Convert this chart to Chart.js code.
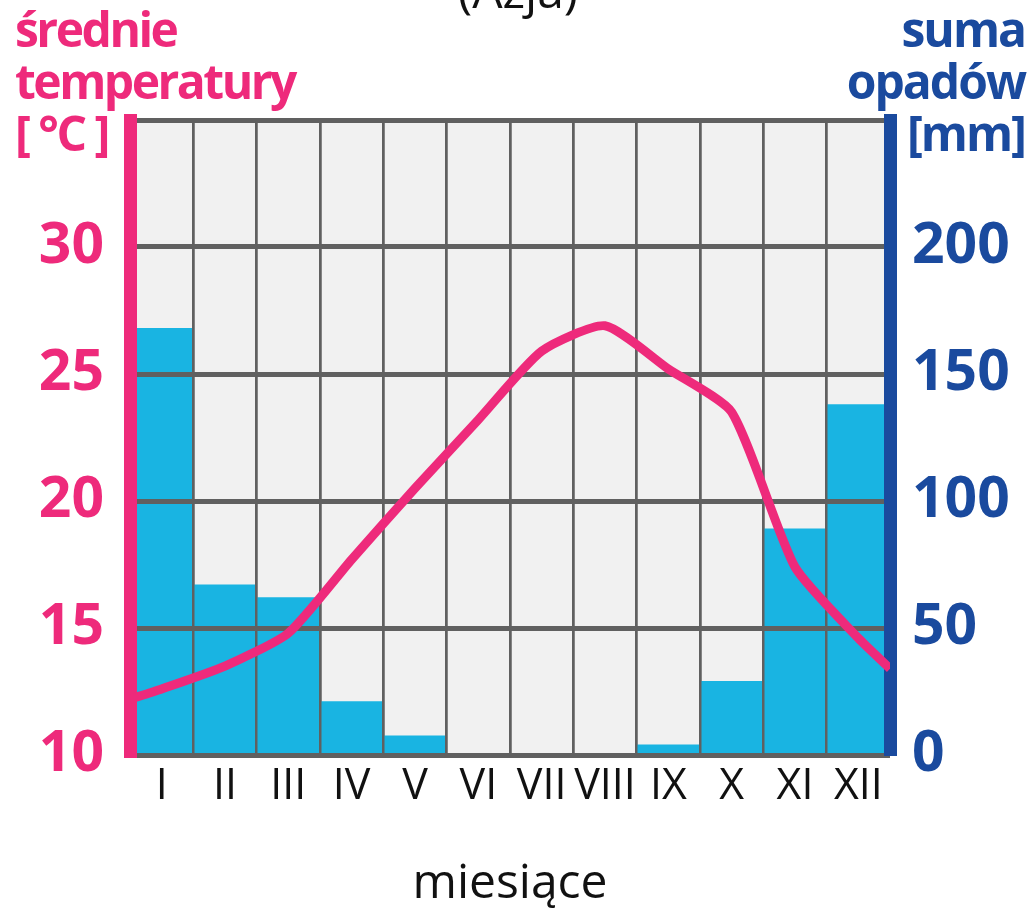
<!DOCTYPE html>
<html lang="pl">
<head>
<meta charset="utf-8">
<title>Klimatogram</title>
<script src="https://cdn.jsdelivr.net/npm/chart.js@4.4.1/dist/chart.umd.min.js"></script>
<style>
  html, body { margin: 0; padding: 0; background: #fff; }
  #wrap { position: relative; width: 1036px; height: 915px; overflow: hidden; }
  #chart { position: absolute; left: 0; top: 0; }
  .head { position: absolute; font-family: 'Open Sans', sans-serif; font-weight: 700;
          font-size: 48px; line-height: 52px; letter-spacing: -2.5px; white-space: nowrap; }
  #tempHead { left: 15px; top: 3px; color: #ee2a7b; }
  #rainHead { right: 11px; top: 3px; color: #1a4a9e; text-align: right; letter-spacing: -2px; }
  #topTitle { position: absolute; left: 0; width: 1036px; top: -36px; text-align: center;
              font-family: 'Open Sans', sans-serif; font-size: 48px; line-height: 52px; color: #111; }
</style>
</head>
<body>
<div id="wrap">
  <canvas id="chart" width="1036" height="915"></canvas>
  <div id="topTitle">(Azja)</div>
  <div class="head" id="tempHead">średnie<br>temperatury<br>[ °C ]</div>
  <div class="head" id="rainHead">suma<br>opadów<br>[mm]</div>
</div>
<script>
// dane
const months = ['I', 'II', 'III', 'IV', 'V', 'VI', 'VII', 'VIII', 'IX', 'X', 'XI', 'XII'];
const precipitation = [168, 67, 62, 21, 7.5, 0, 0, 0, 4, 29, 89, 138];
const temperature = [12.6, 13.5, 14.8, 17.7, 20.5, 23.2, 25.9, 26.9, 25.2, 23.5, 17.4, 14.6];
const tempEdges = [12.2, 13.4]; // wartości linii na lewej i prawej krawędzi
const tempTicks = [10, 15, 20, 25, 30];
const rainTicks = [0, 50, 100, 150, 200];

const PINK = '#ee2a7b';
const BLUE = '#1a4a9e';
const GRID = '#606060';

// punkty linii temperatury (z krawędziami wykresu)
const tempPoints = [{ x: 0.5, y: tempEdges[0] }]
  .concat(temperature.map((t, i) => ({ x: i + 1, y: t })))
  .concat([{ x: 12.5, y: tempEdges[1] }]);

// tło obszaru wykresu
const plotBg = {
  id: 'plotBg',
  beforeDraw(chart) {
    const { ctx, chartArea: a } = chart;
    ctx.save();
    ctx.fillStyle = '#f1f1f1';
    ctx.fillRect(a.left, a.top, a.right - a.left, a.bottom - a.top);
    ctx.restore();
  }
};

// siatka nad słupkami, ale pod linią
const gridOver = {
  id: 'gridOver',
  afterDatasetDraw(chart, args) {
    if (args.index !== 0) return;
    chart.scales.x.drawGrid(chart.chartArea);
    chart.scales.y.drawGrid(chart.chartArea);
    chart.scales.y.drawBorder();
    chart.scales.y1.drawBorder();
  }
};

new Chart(document.getElementById('chart'), {
  type: 'bar',
  data: {
    labels: months,
    datasets: [{
      type: 'bar',
      label: 'opady',
      data: precipitation,
      yAxisID: 'y1',
      xAxisID: 'x',
      backgroundColor: '#19b4e2',
      borderWidth: 0,
      grouped: false,
      barPercentage: 1,
      categoryPercentage: 1,
      order: 1
    }, {
      type: 'line',
      label: 'temperatura',
      data: tempPoints,
      yAxisID: 'y',
      xAxisID: 'xl',
      borderColor: PINK,
      borderWidth: 9,
      pointRadius: 0,
      tension: 0.2,
      fill: false,
      order: 0
    }]
  },
  options: {
    responsive: false,
    animation: false,
    layout: { padding: { top: 120, left: 0, right: 0, bottom: 0 } },
    plugins: { legend: { display: false }, tooltip: { enabled: false } },
    scales: {
      x: {
        type: 'category',
        offset: true,
        grid: { offset: true, color: GRID, lineWidth: 2.5, drawTicks: false },
        border: { display: false },
        ticks: {
          color: '#111',
          padding: 6,
          autoSkip: false,
          maxRotation: 0,
          font: { family: "'Open Sans'", size: 43, weight: '400' }
        },
        title: {
          display: true,
          text: 'miesiące',
          color: '#111',
          padding: { top: 0, bottom: 2 },
          font: { family: "'Open Sans'", size: 48, weight: '400' }
        },
        afterFit(scale) { scale.height = 160; }
      },
      xl: {
        type: 'linear',
        display: false,
        offset: false,
        min: 0.5,
        max: 12.5
      },
      y: {
        position: 'left',
        min: 10,
        max: 35,
        grid: { color: GRID, lineWidth: 5, drawTicks: false },
        border: { color: PINK, width: 13 },
        ticks: {
          stepSize: 5,
          padding: 26,
          color: PINK,
          font: { family: "'Open Sans'", size: 57, weight: '700' },
          callback: v => tempTicks.includes(v) ? String(v) : ''
        },
        afterFit(scale) { scale.width = 130; }
      },
      y1: {
        position: 'right',
        min: 0,
        max: 250,
        grid: { display: false, drawTicks: false },
        border: { color: BLUE, width: 13 },
        ticks: {
          stepSize: 50,
          padding: 22,
          color: BLUE,
          font: { family: "'Open Sans'", size: 57, weight: '700' },
          callback: v => rainTicks.includes(v) ? String(v) : ''
        },
        afterFit(scale) { scale.width = 146; }
      }
    }
  },
  plugins: [plotBg, gridOver]
});
</script>
</body>
</html>
